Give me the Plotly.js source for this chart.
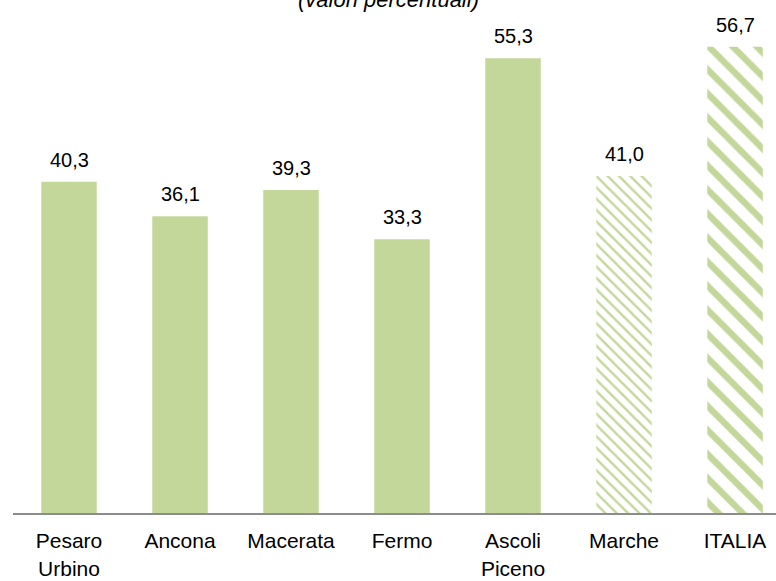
<!DOCTYPE html>
<html>
<head>
<meta charset="utf-8">
<script src="https://cdn.plot.ly/plotly-3.0.1.min.js"></script>
<style>
html,body{margin:0;padding:0;background:#fff;}
#chart{width:776px;height:581px;}
</style>
</head>
<body>
<div id="chart"></div>
<script>
const categories = ["Pesaro<br>Urbino", "Ancona", "Macerata", "Fermo", "Ascoli<br>Piceno", "Marche", "ITALIA"];
const values = [40.3, 36.1, 39.3, 33.3, 55.3, 41.0, 56.7];
const valueLabels = ["40,3", "36,1", "39,3", "33,3", "55,3", "41,0", "56,7"];
const subtitle = "(valori percentuali)";

const green = "#c4d79b";
const FONT = "Liberation Sans, Arial, sans-serif";

const provIdx = [0,1,2,3,4];
const traces = [
  {
    type: "bar",
    x: provIdx.map(i => categories[i]),
    y: provIdx.map(i => values[i]),
    marker: {color: green, line: {width: 0}},
    hoverinfo: "skip",
    showlegend: false
  },
  {
    type: "bar",
    x: [categories[5]],
    y: [values[5]],
    marker: {color: green, line: {width: 0},
      pattern: {shape: "\\", size: 8, solidity: 0.3, fgcolor: green, bgcolor: "#ffffff", fillmode: "replace"}},
    hoverinfo: "skip",
    showlegend: false
  },
  {
    type: "bar",
    x: [categories[6]],
    y: [values[6]],
    marker: {color: green, line: {width: 0},
      pattern: {shape: "\\", size: 17, solidity: 0.38, fgcolor: green, bgcolor: "#ffffff", fillmode: "replace"}},
    hoverinfo: "skip",
    showlegend: false
  }
];

const annotations = categories.map((c, i) => ({
  x: c, y: values[i], xref: "x", yref: "y",
  text: valueLabels[i], showarrow: false,
  yanchor: "middle", yshift: 22,
  font: {family: FONT, size: 20, color: "#000"}
}));
annotations.push({
  x: 0.4915, y: 1, xref: "paper", yref: "paper",
  text: "<i>" + subtitle + "</i>", showarrow: false,
  xanchor: "center", yanchor: "middle", yshift: 1,
  font: {family: FONT, size: 22, color: "#000"}
});

const layout = {
  width: 776, height: 581,
  margin: {l: 13, r: 0, t: 0, b: 68},
  paper_bgcolor: "#fff", plot_bgcolor: "#fff",
  barmode: "group",
  bargap: 0.5,
  font: {family: FONT, color: "#000"},
  xaxis: {
    type: "category",
    categoryorder: "array", categoryarray: categories,
    range: [-0.5045, 6.369],
    showline: true, linecolor: "#8c8c8c", linewidth: 2,
    ticks: "", showgrid: false, zeroline: false,
    ticklabelstandoff: 8,
    tickfont: {family: FONT, size: 21, color: "#000"}
  },
  yaxis: {
    range: [0, 62.4],
    visible: false, showgrid: false, zeroline: false, fixedrange: true
  },
  annotations: annotations,
  showlegend: false
};

Plotly.newPlot("chart", traces, layout, {staticPlot: true, displayModeBar: false});
</script>
</body>
</html>
